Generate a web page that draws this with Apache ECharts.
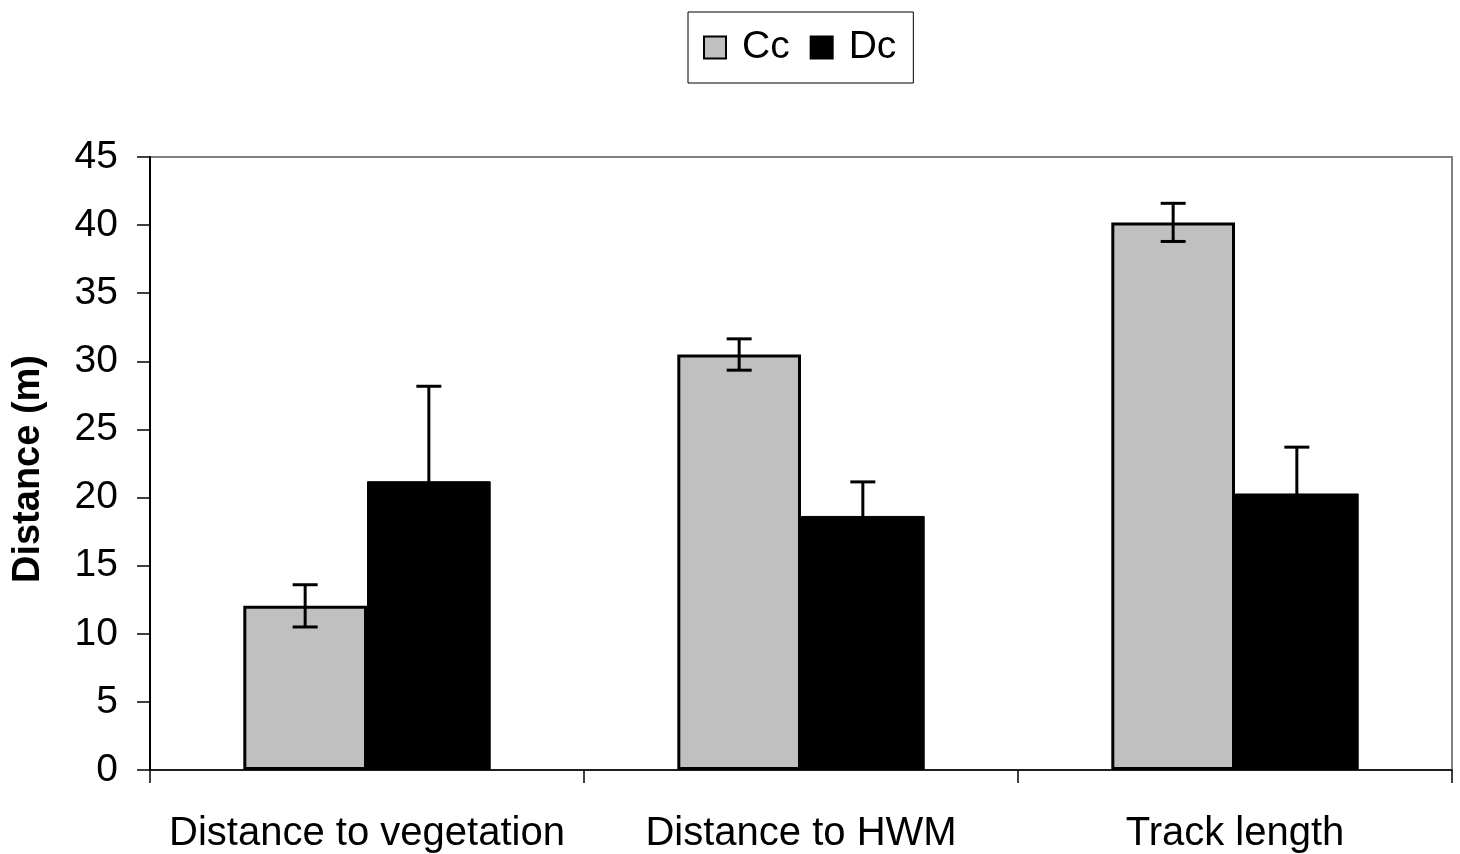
<!DOCTYPE html>
<html>
<head>
<meta charset="utf-8">
<script src="https://cdn.jsdelivr.net/npm/echarts@6/dist/echarts.min.js"></script>
<style>html,body{margin:0;padding:0;background:#fff;}#c{width:1460px;height:854px;}</style>
</head>
<body>
<div id="c"></div>
<script>
const categories = ['Distance to vegetation', 'Distance to HWM', 'Track length'];
const ccValues = [12.05, 30.5, 40.2];
const dcValues = [21.2, 18.65, 20.3];
const ccErrors = [1.55, 1.15, 1.4];
const dcErrors = [6.97, 2.5, 3.4];
const yTicks = { min: 0, max: 45, interval: 5 };

const CAT_GAP = 0.43;
function errSeries(name, values, errs, sign) {
  return {
    type: 'custom',
    name: name + ' error',
    z: 10,
    silent: true,
    data: values.map((v, i) => [i, v, errs[i]]),
    renderItem(params, api) {
      const i = api.value(0), v = api.value(1), e = api.value(2);
      const band = api.size([1, 0])[0];
      const bw = band * (1 - CAT_GAP) / 2;
      const c = api.coord([i, v]);
      const x = c[0] + sign * bw / 2;
      const hi = api.coord([i, v + e])[1];
      const lo = api.coord([i, v - e])[1];
      const cap = 12.5;
      const st = { stroke: '#000', lineWidth: 3 };
      return {
        type: 'group',
        children: [
          { type: 'line', shape: { x1: x, y1: hi, x2: x, y2: lo }, style: st },
          { type: 'line', shape: { x1: x - cap, y1: hi, x2: x + cap, y2: hi }, style: st },
          { type: 'line', shape: { x1: x - cap, y1: lo, x2: x + cap, y2: lo }, style: st }
        ]
      };
    }
  };
}

const chart = echarts.init(document.getElementById('c'));
chart.setOption({
  animation: false,
  backgroundColor: '#fff',
  textStyle: { fontFamily: 'Liberation Sans, Arial, sans-serif' },
  legend: {
    data: ['Cc', 'Dc'],
    left: 688, top: 12,
    padding: [16, 17, 16, 15],
    itemGap: 20,
    itemWidth: 22, itemHeight: 22,
    icon: 'rect',
    borderColor: '#000', borderWidth: 1,
    textStyle: { fontSize: 39, color: '#000', padding: [0, 0, 0, 11], fontFamily: 'Liberation Sans, Arial, sans-serif' }
  },
  grid: {
    left: 150, right: 8, top: 157, bottom: 84,
    show: true, borderColor: '#808080', borderWidth: 2, backgroundColor: '#fff'
  },
  xAxis: {
    type: 'category',
    data: categories,
    axisLine: { lineStyle: { color: '#000', width: 1.5 } },
    axisTick: { show: true, length: 13, lineStyle: { color: '#000', width: 1.5 } },
    axisLabel: { fontSize: 40, color: '#000', margin: 44, interval: 0 }
  },
  yAxis: {
    type: 'value',
    min: yTicks.min, max: yTicks.max, interval: yTicks.interval,
    name: 'Distance (m)',
    nameLocation: 'middle',
    nameGap: 102,
    nameTextStyle: { fontSize: 38, fontWeight: 'bold', color: '#000', padding: [0, 11, 0, 0] },
    axisLine: { show: true, lineStyle: { color: '#000', width: 2 } },
    axisTick: { show: true, length: 13, lineStyle: { color: '#000', width: 1.5 } },
    axisLabel: { fontSize: 39, color: '#000', margin: 32 },
    splitLine: { show: false }
  },
  series: [
    {
      type: 'bar', name: 'Cc', data: ccValues,
      barGap: '0%', barCategoryGap: (CAT_GAP * 100) + '%',
      itemStyle: { color: '#c0c0c0', borderColor: '#000', borderWidth: 3 }
    },
    {
      type: 'bar', name: 'Dc', data: dcValues,
      barGap: '0%', barCategoryGap: (CAT_GAP * 100) + '%',
      itemStyle: { color: '#000', borderColor: '#000', borderWidth: 1 }
    },
    errSeries('Cc', ccValues, ccErrors, -1),
    errSeries('Dc', dcValues, dcErrors, 1)
  ]
});
</script>
</body>
</html>
